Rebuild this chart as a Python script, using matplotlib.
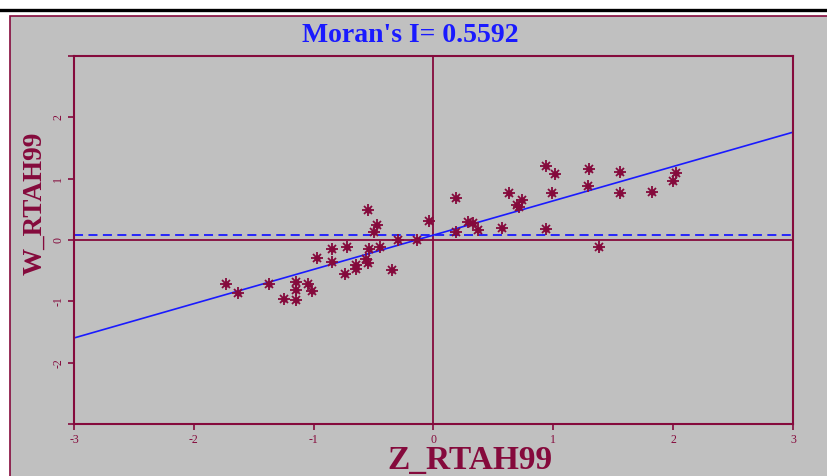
import matplotlib
matplotlib.use("Agg")
import matplotlib.pyplot as plt
from matplotlib.patches import Rectangle
from matplotlib.lines import Line2D

# standardized value (x) and its spatial lag (y)
z_rtah99 = [-0.55, -0.47, -0.50, -0.04, -0.30, -0.14, -0.85, -0.72, -0.54, -0.45,
            -0.97, -0.85, -0.56, -0.65, -0.65, -0.55, -0.74, -0.35, -1.73, -1.63,
            -1.37, -1.15, -1.15, -1.045, -1.01, -1.25, -1.15,
            0.94, 1.01, 1.30, 1.56, 2.02, 2.00, 0.19, 0.63, 0.74, 0.695, 0.71,
            0.99, 1.29, 1.56, 1.82, 0.285, 0.33, 0.37, 0.19, 0.57, 0.94, 1.38]
w_rtah99 = [0.49, 0.25, 0.135, 0.31, 0.00, 0.00, -0.15, -0.11, -0.15, -0.11,
            -0.30, -0.36, -0.31, -0.41, -0.47, -0.38, -0.56, -0.49, -0.72, -0.87,
            -0.72, -0.69, -0.81, -0.72, -0.83, -0.96, -0.98,
            1.21, 1.07, 1.15, 1.11, 1.09, 0.96, 0.69, 0.76, 0.66, 0.57, 0.53,
            0.76, 0.88, 0.76, 0.78, 0.29, 0.28, 0.17, 0.13, 0.20, 0.18, -0.12]

morans_i = 0.5592
lag_mean = 0.08
axis_ticks = [-3, -2, -1, 0, 1, 2, 3]
y_tick_labels = ["", "-2", "-1", "0", "1", "2", ""]

maroon = "#850a3c"
blue = "#1a1aff"
gray = "#c0c0c0"

fig = plt.figure(figsize=(8.28, 4.76), dpi=100, facecolor="white")

# outer panel and top rule
fig.patches.append(Rectangle((10 / 828, -0.05), 1.0, 1 - 16 / 476 + 0.05,
                             transform=fig.transFigure, facecolor=gray,
                             edgecolor=maroon, linewidth=1.2, zorder=-2))
fig.lines.append(Line2D([0, 1], [1 - 9.5 / 476] * 2, transform=fig.transFigure,
                        color="black", linewidth=2.4, zorder=-1))

ax = fig.add_axes([74 / 828, 1 - 424 / 476, 719 / 828, 368 / 476])
ax.set_facecolor(gray)
ax.set_xlim(-3, 3)
ax.set_ylim(-3, 3)

ax.axhline(0, color=maroon, lw=1.3, zorder=1)
ax.axvline(0, color=maroon, lw=1.3, zorder=1)
ax.axhline(lag_mean, color=blue, lw=1.3, ls=(0, (5, 3)), zorder=2)

xs = [-3, 3]
ax.plot(xs, [lag_mean + morans_i * v for v in xs], color=blue, lw=1.2, zorder=2)

ax.plot(z_rtah99, w_rtah99, ls="none", marker="+", ms=8, mew=1.3, color=maroon, zorder=3)
ax.plot(z_rtah99, w_rtah99, ls="none", marker="x", ms=6, mew=1.3, color=maroon, zorder=3)
ax.plot(z_rtah99, w_rtah99, ls="none", marker="o", ms=3.5, color=maroon, zorder=3)

for s in ax.spines.values():
    s.set_color(maroon)
    s.set_linewidth(1.5)

ax.set_xticks(axis_ticks)
ax.set_xticklabels([str(t) for t in axis_ticks])
ax.set_yticks(axis_ticks)
ax.set_yticklabels(y_tick_labels, rotation=90, va="center")
ax.tick_params(colors=maroon, labelcolor=maroon, length=4, width=1.2,
               labelsize=8.5, pad=3)
for lab in ax.get_xticklabels() + ax.get_yticklabels():
    lab.set_family("Liberation Serif")

fig.text(410 / 828, 1 - 36 / 476, "Moran's I= %.4f" % morans_i, color=blue,
         fontsize=20, fontweight="bold", family="Liberation Serif",
         ha="center", va="center")
fig.text(35 / 828, 1 - 203 / 476, "W_RTAH99", color=maroon, fontsize=19.5,
         fontweight="bold", family="Liberation Serif", rotation=90,
         ha="center", va="center")
fig.text(470 / 828, 1 - 469 / 476, "Z_RTAH99", color=maroon, fontsize=24,
         fontweight="bold", family="Liberation Serif", ha="center", va="baseline")

fig.savefig("out.png", dpi=100, facecolor=fig.get_facecolor())
